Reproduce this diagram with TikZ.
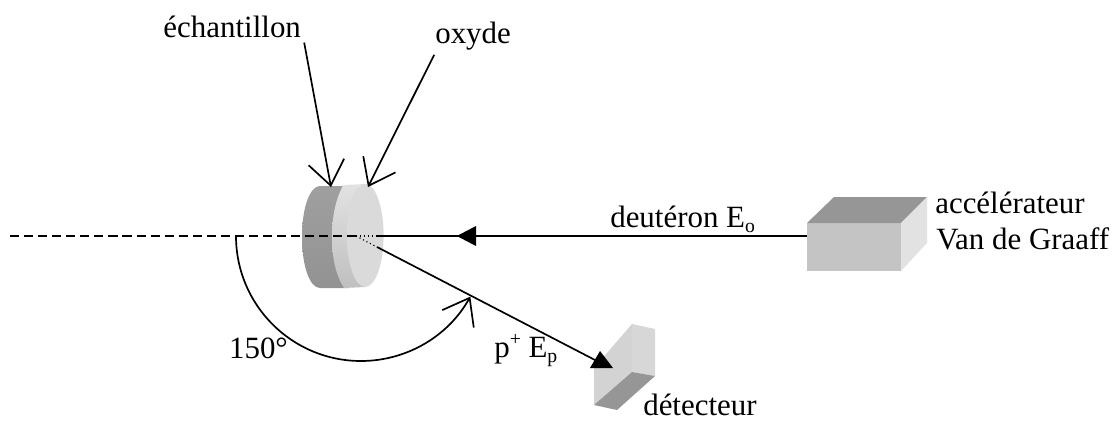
\documentclass[tikz,border=0pt]{standalone}
\usepackage{fontspec}
\setmainfont{Liberation Serif}
\usetikzlibrary{arrows.meta,positioning}
\definecolor{boxtop}{HTML}{969696}
\definecolor{boxfront}{HTML}{C4C4C4}
\definecolor{boxside}{HTML}{E2E2E2}
\definecolor{facelight}{HTML}{DADADA}
\newcommand{\lowtext}[1]{\raisebox{-4pt}{\fontsize{14}{16}\selectfont #1}}
\newcommand{\hightext}[1]{\raisebox{8pt}{\fontsize{14}{16}\selectfont #1}}

\begin{document}
\begin{tikzpicture}[
  font=\fontsize{22}{26}\selectfont,
  beam/.style={line width=1.2pt,draw=black},
  pointer/.style={line width=1.2pt,draw=black,-{Straight Barb[length=6mm,width=9mm,line width=1.2pt]}},
  headfill/.style={fill=black,draw=none},
  label/.style={anchor=base west,inner sep=0pt}
]
\useasboundingbox (0,0) rectangle (27.975,10.525);

% Disc
\shade[top color=gray!75,middle color=gray!62,bottom color=gray!85]
  (8.0,5.875) .. controls (7.75,5.875) and (7.55,5.35) .. (7.55,4.6)
  .. controls (7.55,3.85) and (7.75,3.325) .. (8.0,3.325) -- (8.72,3.325)
  -- (8.72,5.875) -- cycle;
\shade[top color=boxside,middle color=white!90!black,bottom color=gray!50]
  (8.58,5.9) .. controls (8.4,5.55) and (8.3,5.15) .. (8.3,4.6)
  .. controls (8.3,4.05) and (8.4,3.65) .. (8.6,3.325) -- (9.13,3.35)
  -- (9.13,5.925) -- cycle;
\fill[facelight] (9.13,4.64) ellipse [x radius=0.46,y radius=1.29];

% Accelerator
\fill[boxfront] (20.175,3.75) rectangle (22.525,4.95);
\fill[boxtop] (20.175,4.95) -- (20.85,5.6) -- (23.175,5.6) -- (22.525,4.95) -- cycle;
\fill[boxside] (22.525,4.95) -- (23.175,5.6) -- (23.175,4.45) -- (22.525,3.75) -- cycle;
\coordinate (accel) at (20.175,4.625);

% Detector
\fill[boxfront!50!boxside] (14.85,0.4) -- (14.85,1.325) -- (15.8,2.425) -- (15.8,1.225) -- cycle;
\fill[boxfront!35!boxside] (15.8,1.225) -- (15.8,2.425) -- (16.375,2.3) -- (16.375,1.125) -- cycle;
\fill[boxtop] (14.85,0.4) -- (15.8,1.225) -- (16.375,1.125) -- (15.425,0.275) -- cycle;

% Coordinates on the beam axis
\coordinate (axisstart) at (0.25,4.625);
\coordinate (impact) at (8.9,4.625);
\coordinate (exit) at (9.425,4.35);
\coordinate (exitaxis) at (9.425,4.625);
\coordinate (head) at (11.42,4.625);
\coordinate (dethit) at (14.875,1.525);

% Beam lines
\draw[beam,dash pattern=on 6.5pt off 3.5pt] (axisstart) -- (impact);
\draw[line width=0.8pt,dotted] (impact) -- (exitaxis);
\draw[line width=0.8pt,dotted] (impact) -- (exit);
\draw[beam] (exitaxis) -- (accel);
\draw[beam] (exit) -- (dethit);
\fill[headfill] (head) -- ++(0.48,0.25) -- ++(0,-0.5) -- cycle;
\fill[headfill] (15.0,1.75) -- (14.75,1.325) -- (15.325,1.325) -- cycle;

% Labels
\node[label] (sample) at (4.08,9.575) {échantillon};
\node[label] (oxide) at (10.875,9.45) {oxyde};
\node[label] (deuteron) at (15.25,4.85) {deutéron E\lowtext{o}};
\node[label] (accellabel) at (23.375,5.2) {accélérateur};
\node[label] (vdg) at (23.4,4.3) {Van de Graaff};
\node[label] (angle) at (5.72,1.575) {150°};
\node[label] (proton) at (12.35,1.6) {p\hightext{+} E\lowtext{p}};
\node[label] (detector) at (16.075,0.15) {détecteur};

% Pointers
\draw[pointer] (sample.south east) ++(0.075,-0.1) -- (8.275,5.85);
\draw[pointer] (oxide.south west) ++(-0.02,-0.12) -- (9.2,5.85);
\draw[pointer] (5.9,4.625) arc[start angle=180,end angle=331,radius=3.125];
\end{tikzpicture}
\end{document}
